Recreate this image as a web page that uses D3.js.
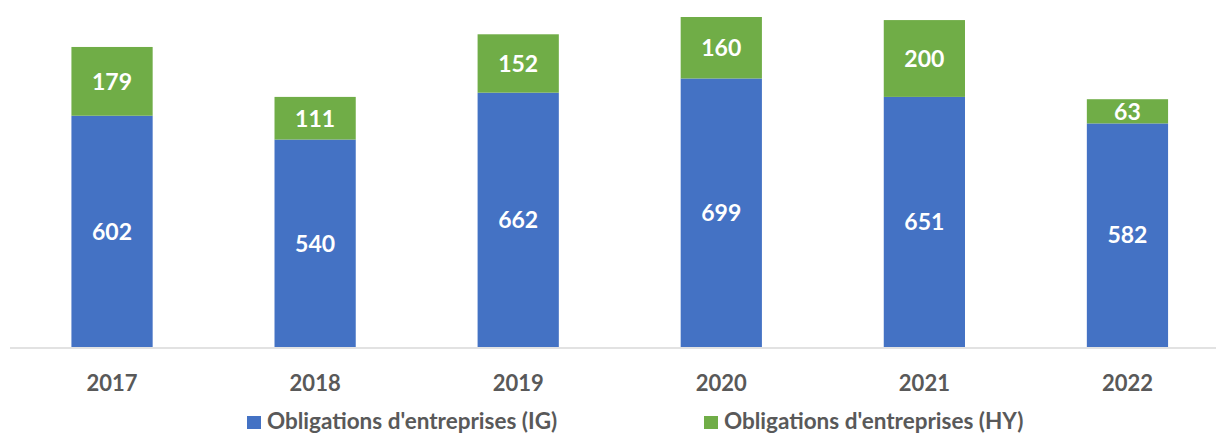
<!DOCTYPE html>
<html><head><meta charset="utf-8">
<script src="https://cdn.jsdelivr.net/npm/d3@7"></script>
<style>body{margin:0;background:#fff;}svg{display:block;}</style>
</head><body>
<svg id="c" width="1216" height="433"></svg>
<script>
const years = ["2017","2018","2019","2020","2021","2022"];
const ig = [602,540,662,699,651,582];
const hy = [179,111,152,160,200,63];
const seriesNames = ["Obligations d'entreprises (IG)","Obligations d'entreprises (HY)"];
const colors = ["#4472C4","#70AD47"];

const svg = d3.select("#c");
const font = "Lato, 'Open Sans', sans-serif";
const x = d3.scaleBand().domain(years).range([10.5,1229]).paddingInner(0.6).paddingOuter(0.3);
const y = d3.scaleLinear().domain([0,859]).range([347,17]);

const data = years.map((yr,i)=>({year:yr, ig:ig[i], hy:hy[i]}));
const stack = d3.stack().keys(["ig","hy"])(data);

stack.forEach((s,si)=>{
  const g = svg.append("g");
  g.selectAll("rect").data(s).join("rect")
    .attr("x",d=>x(d.data.year)).attr("width",x.bandwidth())
    .attr("y",d=>y(d[1])).attr("height",d=>y(d[0])-y(d[1]))
    .attr("fill",colors[si]);
  g.selectAll("text").data(s).join("text")
    .attr("x",d=>x(d.data.year)+x.bandwidth()/2)
    .attr("y",d=>(y(d[0])+y(d[1]))/2)
    .attr("dy","0.36em").attr("text-anchor","middle")
    .attr("fill","#fff").attr("font-family",font).attr("font-weight","bold").attr("font-size",23)
    .text(d=>d[1]-d[0]);
});

svg.append("line").attr("x1",10).attr("x2",1216).attr("y1",348).attr("y2",348)
  .attr("stroke","#D9D9D9").attr("stroke-width",1.5);

const xa = svg.append("g").attr("transform","translate(0,348)")
  .call(d3.axisBottom(x).tickSize(0).tickPadding(0));
xa.select(".domain").remove();
xa.selectAll("text").attr("y",35).attr("dy","0.36em")
  .attr("fill","#595959").attr("font-family",font).attr("font-weight","bold").attr("font-size",22);

const legX = [247,704];
seriesNames.forEach((n,i)=>{
  const lg = svg.append("g").attr("transform",`translate(${legX[i]},0)`);
  lg.append("rect").attr("x",0).attr("y",416).attr("width",14).attr("height",13).attr("fill",colors[i]);
  lg.append("text").attr("x",20).attr("y",428.5)
    .attr("fill","#595959").attr("font-family",font).attr("font-weight","bold").attr("font-size",22.5)
    .text(n);
});
</script>
</body></html>
